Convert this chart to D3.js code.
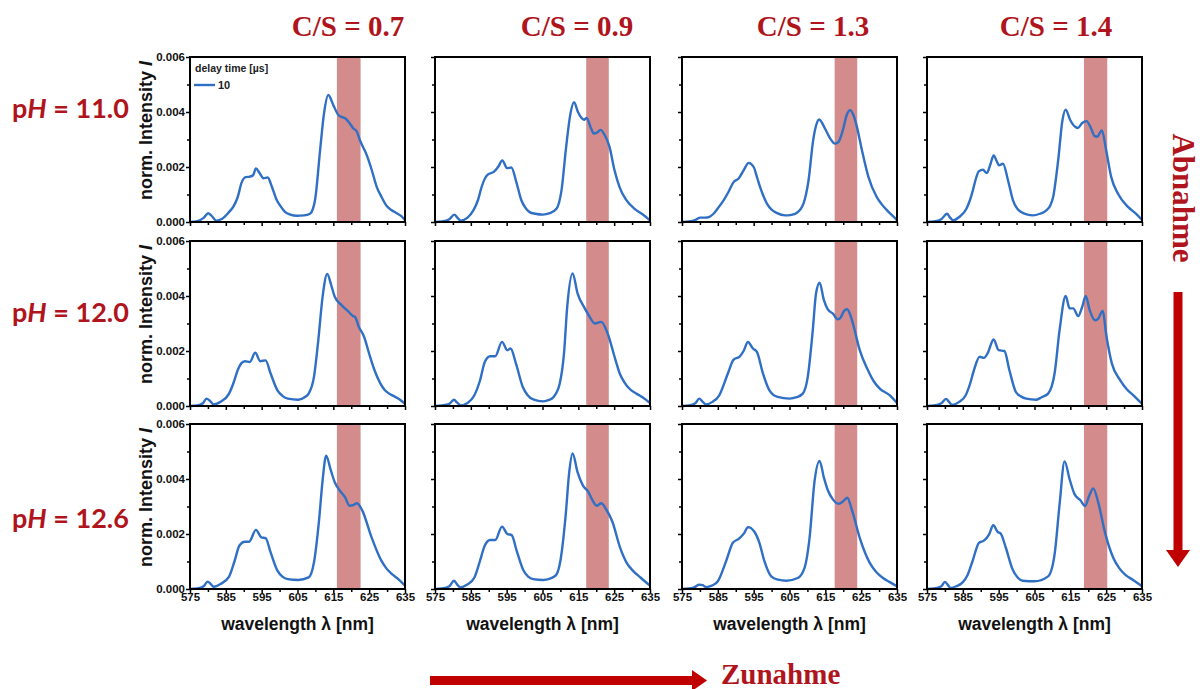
<!DOCTYPE html>
<html>
<head>
<meta charset="utf-8">
<script src="https://cdn.jsdelivr.net/npm/d3@7"></script>
<style>
  body { margin: 0; background: #fff; }
  svg { display: block; }
</style>
</head>
<body>
<svg id="chart" width="1203" height="689"></svg>
<script>
// ---- categories and tick labels ----
const csRatios = ["0.7", "0.9", "1.3", "1.4"];
const phValues = ["11.0", "12.0", "12.6"];
const xMajorTicks = [575, 585, 595, 605, 615, 625, 635];
const xMinorTicks = [580, 590, 600, 610, 620, 630];
const yMajorTicks = [0, 0.002, 0.004, 0.006];
const yMinorTicks = [0.001, 0.003, 0.005];
const legendTitle = "delay time [µs]";
const legendEntry = "10";

// highlighted wavelength window per C/S ratio [nm]
const bands = [[616.0, 622.6], [617.2, 623.5], [617.6, 623.9], [618.8, 625.3]];

// ---- emission spectra, [wavelength nm, normalised intensity] ----
// pH 11.0
const s110_07 = [[575,0],[577,0.00003],[578.8,0.00015],[580.1,0.00032],[581.2,0.0002],[582.3,0.00005],[584,0.00012],[585.8,0.00035],[587.1,0.00056],[588.3,0.0009],[589.4,0.00143],[590.5,0.00163],[591.7,0.00165],[592.6,0.0017],[593.4,0.00195],[594.4,0.00178],[595.5,0.00159],[596.7,0.00162],[597.8,0.0013],[599.2,0.0008],[600.4,0.00055],[601.5,0.00037],[603,0.00027],[604.8,0.00023],[606.8,0.00024],[608.5,0.0003],[609.3,0.00048],[609.9,0.0008],[611.3,0.0026],[612.4,0.00395],[613.6,0.00462],[615,0.00425],[616.4,0.00389],[617.3,0.00382],[618.3,0.00377],[619.5,0.0036],[620.6,0.0034],[621.5,0.0033],[622.4,0.00298],[624.3,0.00244],[625.7,0.0019],[627.1,0.00128],[628.5,0.0009],[629.9,0.00058],[631.3,0.00043],[632.7,0.00032],[633.9,0.00022],[635,0.00007]];
const s110_09 = [[575,0],[577,0.00002],[579,0.0001],[580.4,0.00027],[581.3,0.00015],[582.2,0.00005],[584,0.00015],[585.7,0.00042],[587,0.0008],[588,0.00127],[589,0.0016],[589.8,0.00173],[591.4,0.00182],[592.6,0.002],[593.8,0.00224],[595.1,0.00196],[596.3,0.00198],[597.7,0.00145],[599.1,0.00079],[600.2,0.00052],[601.4,0.00036],[603,0.0003],[605.1,0.00027],[607,0.00032],[608.9,0.00048],[610.3,0.00115],[611.6,0.00273],[612.8,0.00394],[613.8,0.00436],[614.9,0.004],[615.8,0.0038],[616.6,0.00372],[617.3,0.00378],[618.5,0.00342],[619.3,0.00322],[620.2,0.00325],[621.2,0.00335],[622.2,0.0032],[623.7,0.00273],[625.1,0.00188],[626.5,0.00127],[628.3,0.00081],[630.7,0.00048],[633,0.00027],[635,0.00006]];
const s110_13 = [[575,0],[577,0.00002],[578.8,0.00008],[580.1,0.00016],[581.5,0.00016],[582.5,0.00018],[583.8,0.0003],[585.3,0.00055],[586.6,0.00079],[588,0.0011],[589.4,0.00145],[590.8,0.00158],[592.2,0.00188],[593.6,0.00215],[595,0.002],[596,0.0016],[596.8,0.00127],[598.7,0.00067],[600,0.00045],[601.4,0.00033],[603.8,0.00024],[605.5,0.00026],[607,0.00033],[608.9,0.00067],[609.6,0.001],[610.3,0.0015],[611.6,0.00297],[612.4,0.0035],[613.3,0.00373],[614.1,0.0036],[614.9,0.0034],[616.7,0.00297],[617.6,0.00285],[618.6,0.0029],[619.8,0.0033],[621,0.0039],[621.9,0.00407],[622.8,0.0039],[623.8,0.00347],[625.2,0.00262],[627,0.00165],[629.3,0.00092],[630.7,0.00065],[632.1,0.00044],[633.6,0.00025],[635,0.00007]];
const s110_14 = [[575,0],[577,0.00002],[579,0.0001],[580.6,0.0003],[581.5,0.00015],[582.3,0.00006],[584,0.00018],[586,0.00048],[587,0.0008],[587.8,0.00115],[588.7,0.0016],[589.5,0.00185],[590.6,0.0019],[591.7,0.00178],[592.7,0.0021],[593.6,0.00242],[594.5,0.0022],[595.1,0.00206],[596.2,0.00212],[597.6,0.00152],[599,0.00079],[600,0.00052],[601.3,0.00036],[602.8,0.00028],[604.6,0.00024],[606.5,0.0003],[608.3,0.00042],[609.4,0.0006],[610.2,0.00091],[611.6,0.00224],[612.8,0.0037],[613.7,0.00408],[615,0.0037],[615.7,0.00355],[616.5,0.00345],[617.1,0.00342],[618.3,0.0036],[619.5,0.00367],[620.8,0.0034],[621.8,0.00312],[622.5,0.0031],[623.8,0.00333],[625,0.00261],[626.4,0.00164],[628.3,0.00103],[631.1,0.00055],[633.5,0.00028],[635,0.00008]];
// pH 12.0
const s120_07 = [[575,0],[577,0.00002],[578.6,0.0001],[579.6,0.00027],[580.6,0.00018],[581.6,0.00006],[583.5,0.00015],[585.9,0.00045],[587.3,0.0009],[588.3,0.0013],[589.3,0.00155],[590.3,0.00163],[591.7,0.0016],[593.2,0.00194],[594.6,0.00163],[596.1,0.00166],[597.5,0.00118],[599.4,0.00057],[600.8,0.00037],[602.3,0.00027],[605.2,0.00023],[607,0.00032],[608.1,0.00045],[609.6,0.00106],[610.8,0.00239],[612,0.00397],[613.3,0.0048],[614.4,0.0044],[615.4,0.00397],[617.3,0.00367],[619.3,0.00342],[620.5,0.00327],[621,0.00325],[622.1,0.00288],[623.6,0.00251],[625,0.0019],[626.5,0.0013],[628,0.00085],[629.4,0.00057],[631,0.00042],[632.3,0.00033],[633.7,0.00022],[635,0.00008]];
const s120_09 = [[575,0],[577,0.00002],[579,0.00008],[580.3,0.00023],[581.2,0.00012],[582.2,0.00002],[584,0.0001],[586,0.00039],[587.5,0.0009],[588.9,0.0016],[590.4,0.00181],[591.8,0.00181],[593.7,0.00233],[595.2,0.00203],[596.1,0.00209],[597.6,0.00154],[599.5,0.00069],[600.8,0.0004],[602.4,0.00024],[605.2,0.00017],[606.8,0.00022],[608.1,0.00033],[609.8,0.00081],[611,0.00191],[611.9,0.00361],[613.4,0.00482],[614.8,0.00409],[616.8,0.00355],[617.9,0.0033],[619.6,0.003],[621.4,0.00306],[623,0.0027],[625.4,0.00166],[626.5,0.0012],[627.8,0.00087],[629.5,0.0006],[631.2,0.00045],[633.3,0.00028],[635,0.00011]];
const s120_13 = [[575,0],[577,0.00002],[578.7,0.0001],[579.8,0.00027],[580.8,0.00015],[581.7,0.00006],[583.5,0.00015],[585.4,0.00039],[587.8,0.00118],[589.4,0.00169],[591,0.00179],[592.2,0.002],[593.4,0.00233],[594.8,0.00209],[595.9,0.00197],[597.6,0.00118],[599.4,0.00057],[601.7,0.00033],[605,0.00027],[607,0.00032],[608.7,0.00045],[610.1,0.00106],[611.5,0.00276],[612.4,0.00409],[613.4,0.00448],[614.6,0.00385],[615.7,0.00351],[617.1,0.00336],[618.5,0.00315],[619.3,0.00322],[620.2,0.00345],[621.1,0.00352],[622,0.0033],[622.7,0.003],[624.6,0.00203],[626.9,0.0013],[628.5,0.0009],[630.2,0.00063],[633,0.00039],[635,0.00011]];
const s120_14 = [[575,0],[577,0.00002],[579,0.0001],[580.3,0.00026],[581.2,0.00014],[582,0.00004],[584,0.00015],[585.8,0.00039],[587,0.0008],[588.1,0.0013],[589.7,0.00179],[590.9,0.00175],[591.9,0.00191],[593.6,0.00242],[595,0.00203],[596.6,0.002],[598,0.0013],[599.8,0.00051],[601.2,0.00035],[602.7,0.00027],[605.5,0.00023],[607,0.00032],[608.8,0.00045],[610.6,0.00118],[612,0.00276],[613.7,0.004],[614.8,0.00355],[615.8,0.00355],[617.2,0.00327],[618.3,0.0036],[619.3,0.004],[620.4,0.00349],[621.9,0.00312],[622.8,0.00318],[624,0.00346],[625.1,0.00252],[626.6,0.00154],[628.9,0.00094],[630.8,0.0006],[632.6,0.00039],[635,0.00008]];
// pH 12.6
const s126_07 = [[575,0],[577,0.00002],[578.8,0.0001],[579.9,0.00027],[580.8,0.00018],[581.6,0.00008],[583.5,0.00018],[585.9,0.00045],[587.4,0.001],[588.8,0.00158],[590.3,0.00172],[591.5,0.00172],[593.4,0.00215],[594.9,0.00188],[596.1,0.00185],[597.5,0.00133],[599.4,0.00067],[600.8,0.00045],[602.3,0.00036],[605.2,0.00033],[608.1,0.00042],[609.6,0.00097],[611,0.00248],[612,0.00394],[613,0.00485],[614.2,0.00436],[615.4,0.00388],[616.8,0.00358],[618.3,0.00333],[619.5,0.00303],[620.5,0.00305],[621.6,0.00312],[623.1,0.00285],[625.5,0.00194],[628.4,0.00103],[629.8,0.00075],[631.3,0.00055],[633.2,0.00035],[635,0.00012]];
const s126_09 = [[575,0],[577,0.00002],[579,0.0001],[580.3,0.0003],[581.2,0.00016],[582,0.00006],[584,0.00016],[586,0.00042],[587.5,0.001],[588.9,0.00158],[590.4,0.00178],[591.8,0.00178],[593.7,0.00227],[595.2,0.002],[596.4,0.00196],[597.8,0.00139],[599.7,0.00067],[601,0.00045],[602.4,0.00036],[605.2,0.00033],[608.6,0.00048],[610,0.00103],[611.5,0.00273],[612.4,0.00418],[613.4,0.00493],[614.8,0.00424],[616.3,0.00376],[617.7,0.00355],[618.9,0.00324],[620.1,0.00303],[621.4,0.00312],[622.7,0.00291],[624.4,0.00248],[626.8,0.00145],[628.5,0.00095],[630.2,0.00067],[632.5,0.0004],[635,0.00012]];
const s126_13 = [[575,0],[577,0.00002],[578.7,0.00008],[579.8,0.00016],[580.8,0.00014],[581.7,0.00007],[583.3,0.00012],[585,0.00028],[587.3,0.00101],[589.2,0.00168],[591,0.00184],[592.4,0.00204],[593.4,0.00225],[595.2,0.00208],[596.6,0.00168],[598,0.00101],[599.9,0.00046],[601.8,0.00034],[604.1,0.0003],[607.3,0.0004],[609.2,0.00077],[610.6,0.00186],[612,0.00393],[613.4,0.00466],[614.6,0.00405],[615.7,0.00359],[617.1,0.00326],[618.7,0.0031],[619.9,0.00318],[621.1,0.00332],[622.5,0.00284],[624.6,0.00186],[627.4,0.00095],[629.2,0.00062],[631.1,0.0004],[633,0.00025],[635,0.0001]];
const s126_14 = [[575,0],[577,0.00002],[579,0.0001],[580,0.00026],[580.8,0.00015],[581.6,0.00004],[583.2,0.0001],[584.8,0.00022],[586.3,0.0005],[587.7,0.00101],[589.5,0.00168],[590.9,0.00176],[592.3,0.00198],[593.5,0.00232],[594.7,0.00208],[595.6,0.00201],[597,0.0015],[598.9,0.00071],[600.3,0.00042],[601.7,0.0003],[605,0.00028],[608.8,0.00046],[610.6,0.00125],[612,0.00308],[613.4,0.00464],[614.8,0.00399],[616.2,0.00344],[617.8,0.00323],[619.1,0.00302],[620.3,0.0034],[621.4,0.00366],[622.8,0.00314],[624.7,0.00204],[627,0.00113],[628.7,0.00075],[630.3,0.00052],[632.6,0.00032],[635,0.0001]];

const spectra = [
  [s110_07, s110_09, s110_13, s110_14],
  [s120_07, s120_09, s120_13, s120_14],
  [s126_07, s126_09, s126_13, s126_14]
];

// ---- layout ----
const colLeft = [190, 435, 682, 927];
const rowTop = [57, 241, 424];
const pw = 215, ph = 165;
const titleX = [348, 577, 813, 1056];
const rowLabelBaseline = [118, 322, 528];

const RED = "#b0141c";
const ARROW = "#c00000";
const LINE = "#2f6fc4";
const BAND = "#d38b8b";
const sans = "'Liberation Sans', Arial, sans-serif";
const serif = "'Liberation Serif', 'Times New Roman', serif";

const svg = d3.select("#chart");

const x = d3.scaleLinear().domain([575, 635]).range([0, pw]);
const y = d3.scaleLinear().domain([0, 0.006]).range([ph, 0]);
const line = d3.line().x(d => x(d[0])).y(d => y(d[1])).curve(d3.curveMonotoneX);

spectra.forEach((row, r) => {
  row.forEach((series, c) => {
    const g = svg.append("g").attr("transform", `translate(${colLeft[c]},${rowTop[r]})`);

    // highlighted band
    g.append("rect")
      .attr("x", x(bands[c][0])).attr("y", 0)
      .attr("width", x(bands[c][1]) - x(bands[c][0])).attr("height", ph)
      .attr("fill", BAND);

    // spectrum
    g.append("path").datum(series)
      .attr("d", line)
      .attr("fill", "none")
      .attr("stroke", LINE)
      .attr("stroke-width", 2.4)
      .attr("stroke-linejoin", "round");

    // x axis (major + minor)
    const xa = g.append("g").attr("transform", `translate(0,${ph})`)
      .call(d3.axisBottom(x).tickValues(xMajorTicks).tickSize(4).tickPadding(0)
        .tickFormat(r === 2 ? d3.format("d") : () => ""));
    const xm = g.append("g").attr("transform", `translate(0,${ph})`)
      .call(d3.axisBottom(x).tickValues(xMinorTicks).tickSize(3).tickFormat(() => ""));

    // y axis (major + minor)
    const ya = g.append("g")
      .call(d3.axisLeft(y).tickValues(yMajorTicks).tickSize(4).tickPadding(1)
        .tickFormat(c === 0 ? d3.format(".3f") : () => ""));
    const ym = g.append("g")
      .call(d3.axisLeft(y).tickValues(yMinorTicks).tickSize(3).tickFormat(() => ""));

    [xa, xm, ya, ym].forEach(a => {
      a.select(".domain").remove();
      a.selectAll("line").attr("stroke", "#000").attr("stroke-width", 1.5);
      a.selectAll("text")
        .attr("font-family", sans).attr("font-weight", "bold")
        .attr("font-size", 11.5).attr("fill", "#111");
    });

    // frame
    g.append("rect").attr("width", pw).attr("height", ph)
      .attr("fill", "none").attr("stroke", "#000").attr("stroke-width", 2);

    // y-axis title on the first column
    if (c === 0) {
      const t = g.append("text")
        .attr("transform", `translate(-38,${ph / 2 - 9}) rotate(-90)`)
        .attr("text-anchor", "middle")
        .attr("font-family", sans).attr("font-weight", "bold")
        .attr("font-size", 18).attr("fill", "#111");
      t.append("tspan").text("norm. Intensity ");
      t.append("tspan").attr("font-style", "italic").text("I");
    }

    // x-axis title on the bottom row
    if (r === 2) {
      g.append("text")
        .attr("x", pw / 2).attr("y", ph + 41)
        .attr("text-anchor", "middle")
        .attr("font-family", sans).attr("font-weight", "bold")
        .attr("font-size", 17.5).attr("fill", "#111")
        .text("wavelength λ [nm]");
    }

    // legend in the first panel
    if (r === 0 && c === 0) {
      g.append("text").attr("x", 5).attr("y", 15)
        .attr("font-family", sans).attr("font-weight", "bold")
        .attr("font-size", 10.5).attr("fill", "#222").text(legendTitle);
      g.append("line").attr("x1", 4).attr("x2", 25).attr("y1", 28).attr("y2", 28)
        .attr("stroke", LINE).attr("stroke-width", 2.4);
      g.append("text").attr("x", 28).attr("y", 32)
        .attr("font-family", sans).attr("font-weight", "bold")
        .attr("font-size", 11).attr("fill", "#222").text(legendEntry);
    }
  });
});

// column titles
csRatios.forEach((v, c) => {
  svg.append("text")
    .attr("x", titleX[c]).attr("y", 36)
    .attr("text-anchor", "middle")
    .attr("font-family", serif).attr("font-weight", "bold")
    .attr("font-size", 29).attr("fill", RED)
    .text(`C/S = ${v}`);
});

// row labels
phValues.forEach((v, r) => {
  const t = svg.append("text")
    .attr("x", 12).attr("y", rowLabelBaseline[r])
    .attr("font-family", "Lato, 'Open Sans', sans-serif").attr("font-weight", "bold")
    .attr("font-size", 27).attr("fill", RED);
  t.append("tspan").text("p");
  t.append("tspan").attr("font-style", "italic").text("H");
  t.append("tspan").text(` = ${v}`);
});

// vertical trend arrow with label
svg.append("text")
  .attr("transform", "translate(1173,198) rotate(90)")
  .attr("text-anchor", "middle")
  .attr("font-family", serif).attr("font-weight", "bold")
  .attr("font-size", 31).attr("fill", RED)
  .text("Abnahme");
svg.append("path")
  .attr("d", "M1173.5,292 H1182.5 V550 H1190 L1178,567 L1166,550 H1173.5 Z")
  .attr("fill", ARROW);

// horizontal trend arrow with label
svg.append("path")
  .attr("d", "M430,676 H692 V670 L707,680.5 L692,691 V685 H430 Z")
  .attr("fill", ARROW);
svg.append("text")
  .attr("x", 721).attr("y", 684)
  .attr("font-family", serif).attr("font-weight", "bold")
  .attr("font-size", 29).attr("fill", RED)
  .text("Zunahme");
</script>
</body>
</html>
